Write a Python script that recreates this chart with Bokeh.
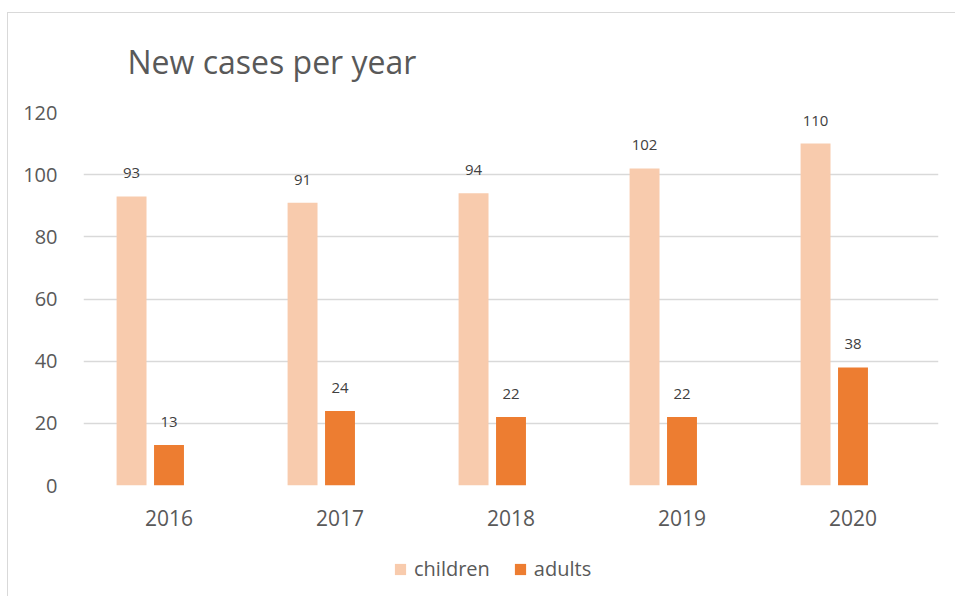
from bokeh.plotting import figure
from bokeh.layouts import column
from bokeh.models import (ColumnDataSource, FactorRange, Legend, LegendItem,
                          LabelSet, FixedTicker, Title, Range1d)
from bokeh.transform import dodge
from bokeh.core.properties import value
from bokeh.embed import file_html
from bokeh.resources import INLINE

# ---- data ----
years = ["2016", "2017", "2018", "2019", "2020"]
children = [93, 91, 94, 102, 110]
adults = [13, 24, 22, 22, 38]
y_ticks = [0, 20, 40, 60, 80, 100, 120]
series_names = ["children", "adults"]
title_text = "New cases per year"

# ---- style ----
colors = ["#F8CBAD", "#ED7D31"]
FONT = "Open Sans"
TXT = "#595959"
BORDER = "1px solid #D9D9D9"

src = ColumnDataSource(dict(
    year=years, children=children, adults=adults,
    cl=[str(v) for v in children], al=[str(v) for v in adults],
))
x_range = FactorRange(*years)
off_c, off_a, bw = -0.219, 0.0, 0.175

# ---------------- main chart ----------------
p = figure(width=948, height=527, x_range=x_range, y_range=(0, 120),
           output_backend="svg", toolbar_location=None,
           min_border_left=75, min_border_right=18, min_border_top=99,
           min_border_bottom=55)
p.styles = {"border-top": BORDER, "border-left": BORDER}
p.outline_line_color = None
p.background_fill_color = "white"
p.border_fill_color = "white"

p.vbar(x=dodge("year", off_c, range=x_range), top="children", width=bw,
       source=src, fill_color=colors[0], line_color=None)
p.vbar(x=dodge("year", off_a, range=x_range), top="adults", width=bw,
       source=src, fill_color=colors[1], line_color=None)

for key, lab, off in (("children", "cl", off_c), ("adults", "al", off_a)):
    p.add_layout(LabelSet(x=dodge("year", off, range=x_range), y=key, text=lab,
                          source=src, text_align="center", text_baseline="middle",
                          y_offset=23, text_font=value(FONT), text_font_size=value("15px"),
                          text_color="#404040"))

p.xgrid.visible = False
p.ygrid.grid_line_color = "#D9D9D9"
p.ygrid.grid_line_width = 1.5
p.yaxis.ticker = FixedTicker(ticks=y_ticks)
for ax in (p.xaxis, p.yaxis):
    ax.axis_line_color = None
    ax.major_tick_line_color = None
    ax.minor_tick_line_color = None
    ax.major_label_text_font = FONT
    ax.major_label_text_color = TXT
p.yaxis.major_label_text_font_size = "20px"
p.yaxis.major_label_standoff = 20
p.xaxis.major_label_text_font_size = "21px"
p.xaxis.major_label_standoff = 18

# blank title used as room between the chart title and the plot area
p.add_layout(Title(text=" ", text_font_size="20px", standoff=6), "above")
p.title.text = title_text
p.title.align = "left"
p.title.offset = 44
p.title.standoff = 0
p.title.text_font = FONT
p.title.text_font_size = "32px"
p.title.text_font_style = "normal"
p.title.text_color = TXT

# ---------------- legend strip (same series, renderers hidden) ----------------
pl = figure(width=948, height=57, x_range=x_range, y_range=Range1d(-2, -1),
            output_backend="svg", toolbar_location=None,
            x_axis_type=None, y_axis_type=None,
            min_border_left=0, min_border_right=0, min_border_top=0,
            min_border_bottom=0)
pl.styles = {"border-left": BORDER}
pl.outline_line_color = None
pl.xgrid.visible = False
pl.ygrid.visible = False
pl.background_fill_color = "white"
pl.border_fill_color = "white"
lr1 = pl.vbar(x=dodge("year", off_c, range=x_range), top="children", width=bw,
              source=src, fill_color=colors[0], line_color=None)
lr2 = pl.vbar(x=dodge("year", off_a, range=x_range), top="adults", width=bw,
              source=src, fill_color=colors[1], line_color=None)
lr1.visible = False
lr2.visible = False

legend = Legend(items=[LegendItem(label=series_names[0], renderers=[lr1]),
                       LegendItem(label=series_names[1], renderers=[lr2])],
                orientation="horizontal", location=(310, 14),
                glyph_width=14, glyph_height=14, label_standoff=7, spacing=23,
                padding=0, margin=0, border_line_color=None,
                background_fill_alpha=0, label_text_font=FONT,
                label_text_font_size="20px", label_text_color=TXT)
pl.add_layout(legend, "center")

layout = column(p, pl, spacing=0)
layout.margin = (12, 0, 0, 7)

open("out.html", "w").write(file_html(layout, INLINE))
